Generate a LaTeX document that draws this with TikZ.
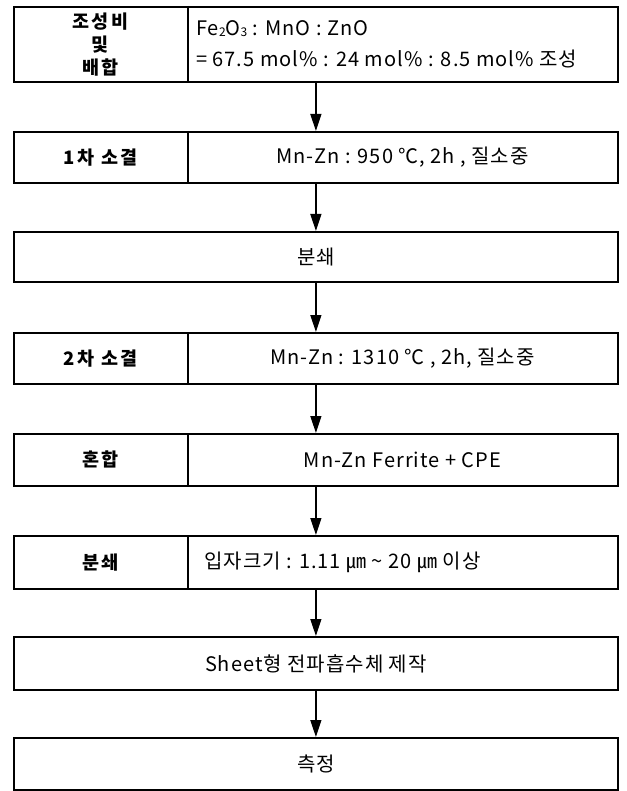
\documentclass[tikz,border=0pt]{standalone}
\usepackage{fontspec}
\setmainfont{Noto Sans CJK KR}
\newfontfamily\bodyfont[LetterSpace=5]{Noto Sans CJK KR}
\newfontfamily\labfont[LetterSpace=14]{Noto Sans CJK KR}
\usetikzlibrary{arrows.meta}
\newcommand{\subsm}[1]{\raisebox{-1pt}{\fontsize{12}{12}\selectfont #1}}
\begin{document}
\begin{tikzpicture}[x=1pt,y=-1pt,
  frame/.style={draw, line width=1.8pt, minimum width=604pt, inner sep=0pt, anchor=north west},
  divider/.style={line width=1.8pt},
  lab/.style={font=\labfont\fontsize{18.5}{23}\selectfont\bfseries, align=center, inner sep=0pt},
  txt/.style={font=\bodyfont\fontsize{20}{31}\selectfont, inner sep=0pt},
  flow/.style={draw, line width=1.2pt, -{Triangle[length=17pt,width=11pt]}}]
\useasboundingbox (0,0) rectangle (626,791);
% frames
\node[frame, minimum height=75pt] (b1) at (13,6) {};
\node[frame, minimum height=51pt] (b2) at (13,131) {};
\node[frame, minimum height=50pt] (b3) at (13,231) {};
\node[frame, minimum height=51pt] (b4) at (13,332) {};
\node[frame, minimum height=52pt] (b5) at (13,433) {};
\node[frame, minimum height=53pt] (b6) at (13,535) {};
\node[frame, minimum height=53pt] (b7) at (13,636) {};
\node[frame, minimum height=52pt] (b8) at (13,737) {};
% dividers
\foreach \b in {b1,b2,b4,b5,b6}{
  \draw[divider] ([xshift=175pt]\b.north west) -- ([xshift=175pt]\b.south west);
}
% box 1
\node[lab] (l1) at ([xshift=87.5pt]b1.west) {조성비\\및\\배합};
\node[txt, anchor=west, align=left] (r1) at ([xshift=183pt]b1.west)
  {Fe\subsm{2}O\subsm{3} : MnO : ZnO\\= 67.5 mol\% : 24 mol\% : 8.5 mol\% 조성};
% box 2
\node[lab] (l2) at ([xshift=87.5pt]b2.west) {1차 소결};
\node[txt] (r2) at ([xshift=389.5pt]b2.west) {Mn-Zn : 950 ℃, 2h , 질소중};
% box 3
\node[txt] (t3) at (b3.center) {분쇄};
% box 4
\node[lab] (l4) at ([xshift=87.5pt]b4.west) {2차 소결};
\node[txt] (r4) at ([xshift=389.5pt]b4.west) {Mn-Zn : 1310 ℃ , 2h, 질소중};
% box 5
\node[lab] (l5) at ([xshift=87.5pt]b5.west) {혼합};
\node[txt] (r5) at ([xshift=389.5pt]b5.west) {Mn-Zn Ferrite + CPE};
% box 6
\node[lab] (l6) at ([xshift=87.5pt]b6.west) {분쇄};
\node[txt, anchor=west] (r6) at ([xshift=191pt]b6.west) {입자크기 : 1.11 ㎛ \textasciitilde{} 20 ㎛ 이상};
% box 7
\node[txt] (t7) at (b7.center) {Sheet형 전파흡수체 제작};
% box 8
\node[txt] (t8) at (b8.center) {측정};
% arrows
\draw[flow] (b1) -- (b2);
\draw[flow] (b2) -- (b3);
\draw[flow] (b3) -- (b4);
\draw[flow] (b4) -- (b5);
\draw[flow] (b5) -- (b6);
\draw[flow] (b6) -- (b7);
\draw[flow] (b7) -- (b8);
\end{tikzpicture}
\end{document}
